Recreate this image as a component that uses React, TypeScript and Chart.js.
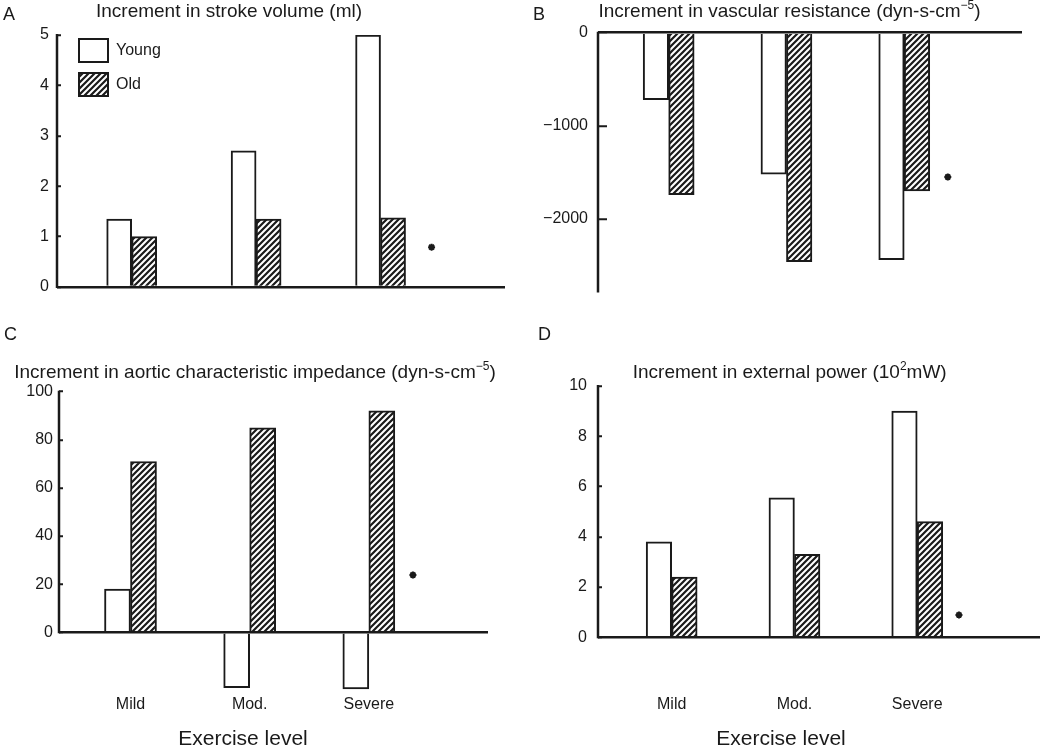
import React, { useEffect, useRef } from 'react';
import { Chart, registerables } from 'chart.js';

Chart.register(...registerables);

const FONT = '"Liberation Sans", Arial, Helvetica, sans-serif';
const INK = '#1a1a1a';

// ---------- data ----------
const exerciseLevels = ['Mild', 'Mod.', 'Severe'];
const levelPositions = [1, 2, 3];
const seriesNames = ['Young', 'Old'];

const strokeYoung = [1.35, 2.7, 5.0];
const strokeOld = [1.0, 1.35, 1.37];
const strokeTicks = [0, 1, 2, 3, 4, 5];
const strokeStar = [3.41, 0.79];

const resistanceYoung = [-720, -1520, -2440];
const resistanceOld = [-1740, -2460, -1700];
const resistanceTicks = [0, -1000, -2000];
const resistanceStar = [3.37, -1551];

const impedanceYoung = [18, -23, -23.6];
const impedanceOld = [71, 85, 92];
const impedanceTicks = [0, 20, 40, 60, 80, 100];
const impedanceStar = [3.37, 23.8];

const powerYoung = [3.8, 5.55, 9.0];
const powerOld = [2.4, 3.3, 4.6];
const powerTicks = [0, 2, 4, 6, 8, 10];
const powerStar = [3.34, 0.89];

type Seg = { t: string; sup?: boolean };

interface PanelCfg {
  left: number; top: number; width: number; height: number;
  letter: string; letterX: number; letterY: number;
  title: Seg[]; titleCx: number; titleY: number;
  young: number[]; old: number[]; ticks: number[]; star: number[];
  yMin: number; yMax: number; axisFrom: number; axisTo: number;
  yWidth: number; padRight: number; padTop: number; xHeight: number;
  tickLen: number; tickPad: number; barW: number;
  showCats: boolean; catPad: number; xTitleCx?: number; xTitleY?: number;
  legend: boolean; legendX?: number; legendY?: number;
}

const panels: PanelCfg[] = [
  {
    left: 0, top: 0, width: 525, height: 320,
    letter: 'A', letterX: 3, letterY: 20,
    title: [{ t: 'Increment in stroke volume (ml)' }], titleCx: 229, titleY: 17,
    young: strokeYoung, old: strokeOld, ticks: strokeTicks, star: strokeStar,
    yMin: 0, yMax: 5, axisFrom: 0, axisTo: 5,
    yWidth: 57, padRight: 20, padTop: 35, xHeight: 33,
    tickLen: 4, tickPad: 12, barW: 25,
    showCats: false, catPad: 0,
    legend: true, legendX: 79, legendY: 39,
  },
  {
    left: 525, top: 0, width: 525, height: 320,
    letter: 'B', letterX: 8, letterY: 20,
    title: [{ t: 'Increment in vascular resistance (dyn-s-cm' }, { t: '\u22125', sup: true }, { t: ')' }],
    titleCx: 264.5, titleY: 17,
    young: resistanceYoung, old: resistanceOld, ticks: resistanceTicks, star: resistanceStar,
    yMin: -2780, yMax: 0, axisFrom: -2780, axisTo: 0,
    yWidth: 73, padRight: 28, padTop: 32.7, xHeight: 18.3,
    tickLen: 9, tickPad: 19, barW: 25.5,
    showCats: false, catPad: 0,
    legend: false,
  },
  {
    left: 0, top: 320, width: 525, height: 427,
    letter: 'C', letterX: 4, letterY: 19.5,
    title: [{ t: 'Increment in aortic characteristic impedance (dyn-s-cm' }, { t: '\u22125', sup: true }, { t: ')' }],
    titleCx: 255, titleY: 57.5,
    young: impedanceYoung, old: impedanceOld, ticks: impedanceTicks, star: impedanceStar,
    yMin: -25, yMax: 100, axisFrom: 0, axisTo: 100,
    yWidth: 59, padRight: 37, padTop: 71.7, xHeight: 54.6,
    tickLen: 4, tickPad: 10, barW: 26,
    showCats: true, catPad: 3, xTitleCx: 243, xTitleY: 425,
    legend: false,
  },
  {
    left: 525, top: 320, width: 525, height: 427,
    letter: 'D', letterX: 13, letterY: 19.5,
    title: [{ t: 'Increment in external power (10' }, { t: '2', sup: true }, { t: 'mW)' }],
    titleCx: 264.7, titleY: 57.5,
    young: powerYoung, old: powerOld, ticks: powerTicks, star: powerStar,
    yMin: 0, yMax: 10, axisFrom: 0, axisTo: 10,
    yWidth: 73, padRight: 10, padTop: 66, xHeight: 109.7,
    tickLen: 4, tickPad: 15, barW: 25.5,
    showCats: true, catPad: 58, xTitleCx: 256, xTitleY: 425,
    legend: false,
  },
];

function makeHatch(): CanvasPattern | string {
  const s = 6;
  const c = document.createElement('canvas');
  c.width = s;
  c.height = s;
  const g = c.getContext('2d');
  if (!g) return '#888';
  g.fillStyle = '#ffffff';
  g.fillRect(0, 0, s, s);
  g.strokeStyle = INK;
  g.lineWidth = 2.2;
  g.beginPath();
  g.moveTo(-1, s + 1); g.lineTo(s + 1, -1);
  g.moveTo(-s / 2 - 1, s / 2 + 1); g.lineTo(s / 2 + 1, -s / 2 - 1);
  g.moveTo(s / 2 - 1, s * 1.5 + 1); g.lineTo(s * 1.5 + 1, s / 2 - 1);
  g.stroke();
  return g.createPattern(c, 'repeat') || '#888';
}

function drawSegs(ctx: CanvasRenderingContext2D, segs: Seg[], cx: number, baseline: number, size: number) {
  const supSize = Math.round(size * 0.63);
  ctx.save();
  ctx.fillStyle = INK;
  ctx.textBaseline = 'alphabetic';
  ctx.textAlign = 'left';
  const widths = segs.map((s) => {
    ctx.font = `${s.sup ? supSize : size}px ${FONT}`;
    return ctx.measureText(s.t).width;
  });
  const total = widths.reduce((a, b) => a + b, 0);
  let x = cx - total / 2;
  segs.forEach((s, i) => {
    ctx.font = `${s.sup ? supSize : size}px ${FONT}`;
    ctx.fillText(s.t, x, s.sup ? baseline - size * 0.42 : baseline);
    x += widths[i];
  });
  ctx.restore();
}

function fmtTick(v: number): string {
  return v < 0 ? '\u2212' + Math.abs(v) : String(v);
}

function Panel({ cfg }: { cfg: PanelCfg }) {
  const ref = useRef<HTMLCanvasElement>(null);

  useEffect(() => {
    const canvas = ref.current;
    if (!canvas) return;
    const hatch = makeHatch();

    const textPlugin = {
      id: 'panelText',
      afterDraw(chart: any) {
        const ctx: CanvasRenderingContext2D = chart.ctx;
        ctx.save();
        ctx.fillStyle = INK;
        ctx.font = `18px ${FONT}`;
        ctx.textAlign = 'left';
        ctx.textBaseline = 'alphabetic';
        ctx.fillText(cfg.letter, cfg.letterX, cfg.letterY);
        ctx.restore();
        drawSegs(ctx, cfg.title, cfg.titleCx, cfg.titleY, 19);
        if (cfg.xTitleCx !== undefined && cfg.xTitleY !== undefined) {
          drawSegs(ctx, [{ t: 'Exercise level' }], cfg.xTitleCx, cfg.xTitleY, 21);
        }
      },
    };

    const axisPlugin = {
      id: 'axisLine',
      afterDatasetsDraw(chart: any) {
        const ctx: CanvasRenderingContext2D = chart.ctx;
        const ys = chart.scales.y;
        const x = chart.chartArea.left;
        ctx.save();
        ctx.strokeStyle = INK;
        ctx.lineWidth = 2.5;
        ctx.beginPath();
        ctx.moveTo(x, ys.getPixelForValue(cfg.axisTo) - 1);
        ctx.lineTo(x, ys.getPixelForValue(cfg.axisFrom) + 1);
        ctx.stroke();
        ctx.restore();
      },
    };

    const legendPlugin = {
      id: 'legendPlace',
      afterLayout(chart: any) {
        const lg = chart.legend;
        if (!lg || !cfg.legend) return;
        const pad = 11;
        lg.left = (cfg.legendX as number) - pad;
        lg.top = (cfg.legendY as number) - pad;
        lg.bottom = lg.top + 200;
        lg.right = lg.left + 150;
      },
    };

    const chart = new Chart(canvas, {
      type: 'bar',
      data: {
        datasets: [
          {
            type: 'bar',
            label: seriesNames[0],
            data: levelPositions.map((x, i) => ({ x, y: cfg.young[i] })),
            backgroundColor: '#ffffff',
            borderColor: INK,
            borderWidth: 2,
            barThickness: cfg.barW,
          },
          {
            type: 'bar',
            label: seriesNames[1],
            data: levelPositions.map((x, i) => ({ x, y: cfg.old[i] })),
            backgroundColor: hatch as any,
            borderColor: INK,
            borderWidth: 2,
            barThickness: cfg.barW,
          },
          {
            type: 'scatter',
            label: 'significance',
            data: [{ x: cfg.star[0], y: cfg.star[1] }],
            pointStyle: 'star',
            radius: 3.5,
            borderWidth: 2,
            borderColor: INK,
            backgroundColor: INK,
          } as any,
        ],
      },
      options: {
        responsive: false,
        animation: false,
        events: [],
        layout: { padding: { left: 0, right: cfg.padRight, top: cfg.padTop, bottom: 0 } },
        scales: {
          x: {
            type: 'linear',
            offset: false,
            min: 0.4,
            max: 4,
            afterBuildTicks: (s: any) => {
              s.ticks = levelPositions.map((v) => ({ value: v }));
            },
            afterFit: (s: any) => {
              s.height = cfg.xHeight;
            },
            grid: { display: false, drawTicks: false, offset: false },
            border: { display: false },
            ticks: {
              display: cfg.showCats,
              padding: cfg.catPad,
              color: INK,
              font: { size: 16, family: FONT },
              maxRotation: 0,
              autoSkip: false,
              callback: (v: any) => {
                const i = levelPositions.indexOf(Number(v));
                return i >= 0 ? exerciseLevels[i] : '';
              },
            },
          },
          y: {
            type: 'linear',
            min: cfg.yMin,
            max: cfg.yMax,
            afterBuildTicks: (s: any) => {
              s.ticks = cfg.ticks.map((v) => ({ value: v }));
            },
            afterFit: (s: any) => {
              s.width = cfg.yWidth;
            },
            border: { display: false },
            grid: {
              z: 1,
              color: (c: any) => (c.tick && c.tick.value === 0 ? INK : 'rgba(0,0,0,0)'),
              lineWidth: 2.5,
              drawTicks: true,
              tickLength: -cfg.tickLen,
              tickColor: INK,
              tickWidth: 2,
            },
            ticks: {
              color: INK,
              padding: cfg.tickPad,
              font: { size: 16, family: FONT },
              callback: (v: any) => fmtTick(Number(v)),
            },
          },
        },
        plugins: {
          tooltip: { enabled: false },
          title: { display: false },
          legend: {
            display: cfg.legend,
            position: 'chartArea',
            align: 'start',
            labels: {
              boxWidth: 29,
              boxHeight: 23,
              padding: 11,
              color: INK,
              font: { size: 16, family: FONT },
              filter: (item: any) => item.datasetIndex < 2,
            },
          },
        },
      } as any,
      plugins: [textPlugin, axisPlugin, legendPlugin],
    });

    return () => {
      chart.destroy();
    };
  }, [cfg]);

  return (
    <canvas
      ref={ref}
      width={cfg.width}
      height={cfg.height}
      style={{ position: 'absolute', left: cfg.left, top: cfg.top, width: cfg.width, height: cfg.height }}
    />
  );
}

export default function App() {
  return (
    <div
      style={{
        position: 'fixed',
        left: 0,
        top: 0,
        width: 1050,
        height: 747,
        background: '#ffffff',
        overflow: 'hidden',
      }}
    >
      {panels.map((p) => (
        <Panel key={p.letter} cfg={p} />
      ))}
    </div>
  );
}
